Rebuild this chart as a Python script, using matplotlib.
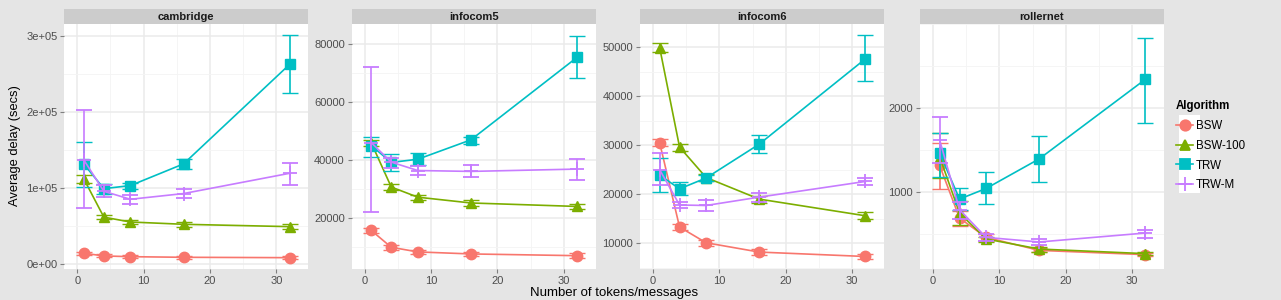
"""Average delay vs number of tokens, faceted by trace (ggplot look)."""

import matplotlib
matplotlib.use("Agg")
import matplotlib.pyplot as plt
from matplotlib.lines import Line2D
from matplotlib.patches import Rectangle
from matplotlib.ticker import MultipleLocator, FixedLocator

plt.rcParams["font.family"] = ["Liberation Sans", "DejaVu Sans"]

tokens = [1, 4, 8, 16, 32]
algorithms = ["BSW", "BSW-100", "TRW", "TRW-M"]
datasets = ["cambridge", "infocom5", "infocom6", "rollernet"]

# (mean, low, high) per dataset / algorithm
cambridge_bsw = [14500, 11000, 10000, 9200, 8700]
cambridge_bsw_lo = [12500, 9000, 8000, 7500, 7000]
cambridge_bsw_hi = [16500, 13000, 12000, 11000, 10500]
cambridge_bsw100 = [112000, 62000, 55600, 52600, 49500]
cambridge_bsw100_lo = [107000, 59000, 52600, 49600, 46500]
cambridge_bsw100_hi = [117000, 65000, 58600, 55600, 52500]
cambridge_trw = [131500, 99500, 103500, 132000, 263000]
cambridge_trw_lo = [101000, 93000, 98500, 125000, 225000]
cambridge_trw_hi = [161000, 106000, 107000, 139000, 301000]
cambridge_trwm = [137000, 96000, 85500, 93000, 119700]
cambridge_trwm_lo = [74500, 88000, 79500, 87500, 104300]
cambridge_trwm_hi = [203000, 104000, 91000, 99000, 133700]

infocom5_bsw = [15700, 9900, 8300, 7600, 7000]
infocom5_bsw_lo = [14800, 9100, 7500, 6800, 6200]
infocom5_bsw_hi = [16600, 10700, 9100, 8400, 7800]
infocom5_bsw100 = [45900, 30700, 27200, 25200, 24000]
infocom5_bsw100_lo = [44800, 29800, 26300, 24300, 23100]
infocom5_bsw100_hi = [47000, 31600, 28100, 26100, 24900]
infocom5_trw = [45000, 39200, 40300, 47000, 75500]
infocom5_trw_lo = [41200, 36400, 38400, 45600, 68200]
infocom5_trw_hi = [47900, 42200, 42600, 48100, 82900]
infocom5_trwm = [46000, 39300, 36400, 36100, 36900]
infocom5_trwm_lo = [22000, 37300, 35000, 34100, 33200]
infocom5_trwm_hi = [72000, 40700, 37800, 38300, 40500]

infocom6_bsw = [30500, 13300, 10100, 8200, 7300]
infocom6_bsw_lo = [29800, 12600, 9500, 7600, 6700]
infocom6_bsw_hi = [31200, 14000, 10700, 8800, 7900]
infocom6_bsw100 = [49900, 29600, 23400, 19000, 15600]
infocom6_bsw100_lo = [48900, 28900, 22700, 18300, 14900]
infocom6_bsw100_hi = [50900, 30300, 24100, 19700, 16300]
infocom6_trw = [23900, 21100, 23300, 30200, 47600]
infocom6_trw_lo = [20500, 19800, 22600, 28400, 43100]
infocom6_trw_hi = [27300, 22400, 23900, 32100, 52400]
infocom6_trwm = [25000, 17800, 17700, 19400, 22600]
infocom6_trwm_lo = [21800, 17100, 16600, 18500, 21900]
infocom6_trwm_hi = [28500, 18500, 18800, 20200, 23300]

rollernet_bsw = [1317, 690, 460, 305, 254]
rollernet_bsw_lo = [1040, 600, 420, 280, 240]
rollernet_bsw_hi = [1580, 780, 500, 330, 270]
rollernet_bsw100 = [1420, 750, 441, 321, 266]
rollernet_bsw100_lo = [1170, 610, 410, 290, 245]
rollernet_bsw100_hi = [1700, 890, 470, 350, 285]
rollernet_trw = [1464, 917, 1043, 1396, 2345]
rollernet_trw_lo = [1180, 789, 852, 1126, 1829]
rollernet_trw_hi = [1710, 1048, 1238, 1674, 2833]
rollernet_trwm = [1620, 790, 460, 405, 512]
rollernet_trwm_lo = [1350, 680, 420, 370, 452]
rollernet_trwm_hi = [1900, 880, 500, 440, 551]

panel_data = {
    "cambridge": [
        (cambridge_bsw, cambridge_bsw_lo, cambridge_bsw_hi),
        (cambridge_bsw100, cambridge_bsw100_lo, cambridge_bsw100_hi),
        (cambridge_trw, cambridge_trw_lo, cambridge_trw_hi),
        (cambridge_trwm, cambridge_trwm_lo, cambridge_trwm_hi),
    ],
    "infocom5": [
        (infocom5_bsw, infocom5_bsw_lo, infocom5_bsw_hi),
        (infocom5_bsw100, infocom5_bsw100_lo, infocom5_bsw100_hi),
        (infocom5_trw, infocom5_trw_lo, infocom5_trw_hi),
        (infocom5_trwm, infocom5_trwm_lo, infocom5_trwm_hi),
    ],
    "infocom6": [
        (infocom6_bsw, infocom6_bsw_lo, infocom6_bsw_hi),
        (infocom6_bsw100, infocom6_bsw100_lo, infocom6_bsw100_hi),
        (infocom6_trw, infocom6_trw_lo, infocom6_trw_hi),
        (infocom6_trwm, infocom6_trwm_lo, infocom6_trwm_hi),
    ],
    "rollernet": [
        (rollernet_bsw, rollernet_bsw_lo, rollernet_bsw_hi),
        (rollernet_bsw100, rollernet_bsw100_lo, rollernet_bsw100_hi),
        (rollernet_trw, rollernet_trw_lo, rollernet_trw_hi),
        (rollernet_trwm, rollernet_trwm_lo, rollernet_trwm_hi),
    ],
}

y_ticks = {
    "cambridge": ([0, 100000, 200000, 300000], ["0e+00", "1e+05", "2e+05", "3e+05"]),
    "infocom5": ([20000, 40000, 60000, 80000], ["20000", "40000", "60000", "80000"]),
    "infocom6": ([10000, 20000, 30000, 40000, 50000],
                 ["10000", "20000", "30000", "40000", "50000"]),
    "rollernet": ([1000, 2000], ["1000", "2000"]),
}
y_limits = {
    "cambridge": (-6200, 316000),
    "infocom5": (2400, 87000),
    "infocom6": (4750, 54700),
    "rollernet": (83, 3004),
}

colors = ["#F8766D", "#7CAE00", "#00BFC4", "#C77CFF"]
markers = ["o", "^", "s", "+"]

W, H = 1281, 300
fig = plt.figure(figsize=(W / 100, H / 100), dpi=100)
fig.patch.set_facecolor("#E5E5E5")

panel_left = [64.3, 351.7, 640, 920]
panel_w = 244
panel_top, panel_bot = 24, 269
strip_top = 9


def px_rect(x0, y0, x1, y1):
    return [x0 / W, 1 - y1 / H, (x1 - x0) / W, (y1 - y0) / H]


for i, name in enumerate(datasets):
    x0 = panel_left[i]
    ax = fig.add_axes(px_rect(x0, panel_top, x0 + panel_w, panel_bot))
    ax.set_facecolor("white")
    for s in ax.spines.values():
        s.set_visible(False)

    ax.set_xlim(-1.96, 34.8)
    ax.set_ylim(*y_limits[name])
    ax.xaxis.set_major_locator(FixedLocator([0, 10, 20, 30]))
    ax.xaxis.set_minor_locator(FixedLocator([5, 15, 25]))
    ticks, labels = y_ticks[name]
    step = ticks[1] - ticks[0]
    ax.yaxis.set_major_locator(FixedLocator(ticks))
    ax.yaxis.set_minor_locator(MultipleLocator(step / 2))
    ax.set_yticklabels(labels)
    ax.set_xticklabels(["0", "10", "20", "30"])
    ax.grid(which="major", color="#EBEBEB", lw=1.1)
    ax.grid(which="minor", color="#F4F4F4", lw=0.6)
    ax.set_axisbelow(True)
    ax.tick_params(which="major", length=3, color="#7F7F7F", labelsize=8,
                   labelcolor="#4D4D4D", pad=2)
    ax.tick_params(which="minor", length=0)

    for j, (mean, lo, hi) in enumerate(panel_data[name]):
        yerr = [[m - l for m, l in zip(mean, lo)], [h - m for m, h in zip(mean, hi)]]
        ax.errorbar(tokens, mean, yerr=yerr, color=colors[j], lw=1.2,
                    elinewidth=1.2, capsize=5.5, capthick=1.2,
                    marker=markers[j], markersize=7.5 if j != 3 else 9.5,
                    markeredgewidth=1.0 if j != 3 else 1.3, zorder=3 + j)

    # facet strip
    sax = fig.add_axes(px_rect(x0, strip_top, x0 + panel_w, panel_top))
    sax.set_facecolor("#CCCCCC")
    sax.set_xticks([])
    sax.set_yticks([])
    for s in sax.spines.values():
        s.set_visible(False)
    sax.text(0.5, 0.5, name, ha="center", va="center", fontsize=8,
             fontweight="bold", color="#1A1A1A", transform=sax.transAxes)

fig.text(15 / W, 1 - 146 / H, "Average delay (secs)", rotation=90,
         ha="center", va="center", fontsize=9.3)
fig.text(614 / W, 1 - 293 / H, "Number of tokens/messages", ha="center",
         va="center", fontsize=9.5)

# legend key background
fig.add_artist(Rectangle((1179 / W, 1 - 193 / H), 21 / W, 78 / H,
                         transform=fig.transFigure, facecolor="white",
                         edgecolor="none", zorder=0.5))
handles = [Line2D([], [], color=c, marker=m, lw=1.2,
                  markersize=7.5 if m != "+" else 10, markeredgewidth=1.3)
           for c, m in zip(colors, markers)]
leg = fig.legend(handles, algorithms, title="Algorithm", loc="upper left",
                 bbox_to_anchor=(1176 / W, 1 - 100 / H), frameon=False,
                 fontsize=8.3, title_fontsize=8.3, handlelength=1.5,
                 handletextpad=0.25, labelspacing=0.68, borderaxespad=0,
                 borderpad=0)
leg.get_title().set_fontweight("bold")
leg._legend_box.align = "left"
leg.set_zorder(2)

fig.savefig("out.png", dpi=100, facecolor=fig.get_facecolor())
